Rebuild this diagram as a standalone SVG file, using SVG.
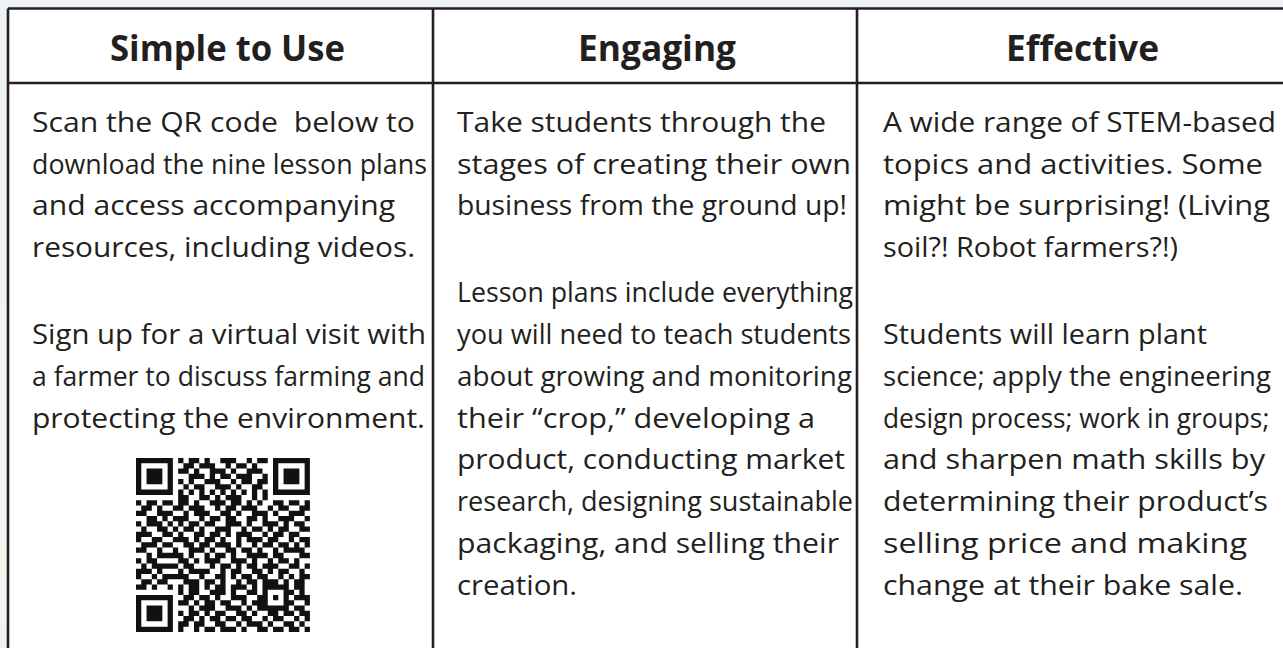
<svg xmlns="http://www.w3.org/2000/svg" width="1283" height="648" viewBox="0 0 1283 648">
<style>
.h{font-family:"Open Sans","DejaVu Sans",sans-serif;font-weight:700;font-size:35px;fill:#231f20}
.b{font-family:"Open Sans","DejaVu Sans",sans-serif;font-size:28px;fill:#231f20}
.ln{stroke:#231f20;stroke-width:2.6;fill:none}
</style>
<defs>
<linearGradient id="bg" x1="0" y1="0" x2="0" y2="1">
<stop offset="0" stop-color="#edf2f7"/>
<stop offset="0.75" stop-color="#eef3f6"/>
<stop offset="0.85" stop-color="#f4f5ec"/>
<stop offset="1" stop-color="#eef3ef"/>
</linearGradient>
</defs>
<rect width="1283" height="648" fill="url(#bg)"/>
<rect x="8" y="8.5" width="1320" height="700" fill="#ffffff"/>
<g id="connectors">
<path class="ln" d="M8 8.5H1290M8 83H1290M8 8.5V660M433 8.5V660M857 8.5V660"/>
</g>
<g id="header-simple"><text class="h" x="110" y="61" textLength="235" lengthAdjust="spacingAndGlyphs">Simple to Use</text></g>
<g id="header-engaging"><text class="h" x="578" y="61" textLength="158" lengthAdjust="spacingAndGlyphs">Engaging</text></g>
<g id="header-effective"><text class="h" x="1006" y="61" textLength="153" lengthAdjust="spacingAndGlyphs">Effective</text></g>
<g id="cell-simple">
<text class="b" x="32" y="132" textLength="383" lengthAdjust="spacingAndGlyphs" xml:space="preserve">Scan the QR code  below to</text>
<text class="b" x="32" y="174" textLength="395" lengthAdjust="spacingAndGlyphs">download the nine lesson plans</text>
<text class="b" x="32" y="215" textLength="363" lengthAdjust="spacingAndGlyphs">and access accompanying</text>
<text class="b" x="32" y="257" textLength="383" lengthAdjust="spacingAndGlyphs">resources, including videos.</text>
<text class="b" x="32" y="344" textLength="394" lengthAdjust="spacingAndGlyphs">Sign up for a virtual visit with</text>
<text class="b" x="32" y="386" textLength="393" lengthAdjust="spacingAndGlyphs">a farmer to discuss farming and</text>
<text class="b" x="32" y="428" textLength="393" lengthAdjust="spacingAndGlyphs">protecting the environment.</text>
<g id="qr" transform="translate(136 458) scale(5.27)" fill="#111">
<path d="M0 0h7v7h-7zM1 1v5h5v-5zM2 2h3v3h-3zM26 0h7v7h-7zM27 1v5h5v-5zM28 2h3v3h-3zM0 26h7v7h-7zM1 27v5h5v-5zM2 28h3v3h-3z" fill-rule="evenodd"/>
<path d="M8 0h1v1h-1zM10 0h2v1h-2zM13 0h1v1h-1zM16 0h3v1h-3zM21 0h1v1h-1zM23 0h2v1h-2z
M9 1h2v1h-2zM12 1h3v1h-3zM17 1h1v1h-1zM19 1h2v1h-2zM22 1h1v1h-1z
M8 2h2v1h-2zM11 2h1v1h-1zM14 2h3v1h-3zM18 2h1v1h-1zM21 2h3v1h-3z
M10 3h3v1h-3zM14 3h1v1h-1zM16 3h2v1h-2zM19 3h3v1h-3zM24 3h1v1h-1z
M8 4h1v1h-1zM10 4h1v1h-1zM13 4h3v1h-3zM18 4h1v1h-1zM20 4h2v1h-2zM23 4h2v1h-2z
M9 5h1v1h-1zM11 5h2v1h-2zM15 5h3v1h-3zM19 5h1v1h-1zM22 5h2v1h-2z
M8 6h1v1h-1zM10 6h1v1h-1zM12 6h1v1h-1zM14 6h1v1h-1zM16 6h1v1h-1zM18 6h1v1h-1zM20 6h1v1h-1zM22 6h1v1h-1zM24 6h1v1h-1z
M8 7h2v1h-2zM12 7h2v1h-2zM15 7h1v1h-1zM17 7h3v1h-3zM22 7h1v1h-1zM24 7h1v1h-1z
M0 8h1v1h-1zM2 8h2v1h-2zM5 8h2v1h-2zM8 8h2v1h-2zM11 8h1v1h-1zM14 8h3v1h-3zM18 8h2v1h-2zM21 8h1v1h-1zM23 8h1v1h-1zM26 8h2v1h-2zM29 8h2v1h-2zM32 8h1v1h-1z
M1 9h2v1h-2zM4 9h1v1h-1zM7 9h2v1h-2zM10 9h3v1h-3zM15 9h1v1h-1zM17 9h2v1h-2zM20 9h3v1h-3zM25 9h1v1h-1zM27 9h2v1h-2zM31 9h2v1h-2z
M0 10h2v1h-2zM4 10h3v1h-3zM9 10h1v1h-1zM11 10h3v1h-3zM16 10h2v1h-2zM19 10h1v1h-1zM22 10h3v1h-3zM26 10h1v1h-1zM29 10h3v1h-3z
M2 11h2v1h-2zM5 11h1v1h-1zM7 11h3v1h-3zM12 11h1v1h-1zM14 11h2v1h-2zM17 11h2v1h-2zM21 11h2v1h-2zM24 11h1v1h-1zM27 11h3v1h-3zM32 11h1v1h-1z
M0 12h1v1h-1zM2 12h3v1h-3zM6 12h1v1h-1zM8 12h1v1h-1zM10 12h2v1h-2zM13 12h2v1h-2zM17 12h3v1h-3zM21 12h1v1h-1zM24 12h3v1h-3zM28 12h1v1h-1zM30 12h2v1h-2z
M1 13h1v1h-1zM4 13h2v1h-2zM7 13h1v1h-1zM9 13h2v1h-2zM12 13h1v1h-1zM15 13h3v1h-3zM20 13h1v1h-1zM22 13h2v1h-2zM25 13h1v1h-1zM27 13h2v1h-2zM31 13h2v1h-2z
M0 14h3v1h-3zM5 14h2v1h-2zM8 14h1v1h-1zM11 14h2v1h-2zM14 14h2v1h-2zM17 14h1v1h-1zM19 14h3v1h-3zM24 14h1v1h-1zM26 14h2v1h-2zM29 14h2v1h-2z
M0 15h1v1h-1zM3 15h2v1h-2zM7 15h3v1h-3zM11 15h1v1h-1zM13 15h2v1h-2zM16 15h1v1h-1zM19 15h1v1h-1zM21 15h3v1h-3zM25 15h2v1h-2zM29 15h1v1h-1zM31 15h2v1h-2z
M1 16h3v1h-3zM5 16h2v1h-2zM9 16h2v1h-2zM12 16h2v1h-2zM15 16h3v1h-3zM19 16h1v1h-1zM22 16h1v1h-1zM24 16h2v1h-2zM27 16h2v1h-2zM30 16h1v1h-1zM32 16h1v1h-1z
M0 17h2v1h-2zM4 17h1v1h-1zM7 17h1v1h-1zM10 17h3v1h-3zM14 17h1v1h-1zM17 17h2v1h-2zM20 17h2v1h-2zM23 17h1v1h-1zM26 17h1v1h-1zM28 17h4v1h-4z
M2 18h1v1h-1zM4 18h5v1h-5zM10 18h1v1h-1zM13 18h1v1h-1zM15 18h2v1h-2zM18 18h1v1h-1zM21 18h4v1h-4zM26 18h2v1h-2zM31 18h2v1h-2z
M0 19h1v1h-1zM2 19h2v1h-2zM8 19h2v1h-2zM11 19h1v1h-1zM13 19h3v1h-3zM18 19h3v1h-3zM22 19h1v1h-1zM25 19h1v1h-1zM27 19h2v1h-2zM30 19h1v1h-1z
M1 20h1v1h-1zM3 20h5v1h-5zM9 20h2v1h-2zM14 20h1v1h-1zM16 20h2v1h-2zM19 20h1v1h-1zM21 20h2v1h-2zM24 20h3v1h-3zM29 20h2v1h-2zM32 20h1v1h-1z
M0 21h3v1h-3zM4 21h1v1h-1zM8 21h1v1h-1zM10 21h4v1h-4zM16 21h1v1h-1zM18 21h2v1h-2zM22 21h2v1h-2zM25 21h1v1h-1zM27 21h2v1h-2zM31 21h1v1h-1z
M0 22h1v1h-1zM3 22h1v1h-1zM5 22h5v1h-5zM12 22h1v1h-1zM15 22h2v1h-2zM18 22h1v1h-1zM20 22h2v1h-2zM23 22h2v1h-2zM27 22h1v1h-1zM29 22h1v1h-1zM31 22h2v1h-2z
M1 23h2v1h-2zM4 23h2v1h-2zM9 23h3v1h-3zM13 23h2v1h-2zM16 23h1v1h-1zM19 23h1v1h-1zM21 23h2v1h-2zM24 23h3v1h-3zM28 23h1v1h-1zM30 23h2v1h-2z
M0 24h2v1h-2zM3 24h1v1h-1zM6 24h1v1h-1zM8 24h1v1h-1zM10 24h2v1h-2zM13 24h1v1h-1zM15 24h2v1h-2zM18 24h3v1h-3zM22 24h1v1h-1zM24 24h5v1h-5zM30 24h2v1h-2z
M8 25h1v1h-1zM10 25h2v1h-2zM14 25h3v1h-3zM18 25h1v1h-1zM21 25h2v1h-2zM24 25h1v1h-1zM28 25h2v1h-2zM31 25h1v1h-1z
M9 26h2v1h-2zM12 26h2v1h-2zM15 26h1v1h-1zM18 26h3v1h-3zM23 26h2v1h-2zM26 26h1v1h-1zM28 26h1v1h-1zM30 26h3v1h-3z
M8 27h2v1h-2zM11 27h1v1h-1zM13 27h2v1h-2zM16 27h2v1h-2zM20 27h1v1h-1zM22 27h3v1h-3zM28 27h2v1h-2zM32 27h1v1h-1z
M10 28h1v1h-1zM12 28h3v1h-3zM17 28h3v1h-3zM21 28h1v1h-1zM23 28h6v1h-6zM30 28h2v1h-2z
M8 29h1v1h-1zM10 29h2v1h-2zM13 29h1v1h-1zM15 29h2v1h-2zM19 29h2v1h-2zM22 29h1v1h-1zM25 29h2v1h-2zM28 29h2v1h-2zM31 29h2v1h-2z
M9 30h2v1h-2zM12 30h1v1h-1zM14 30h2v1h-2zM17 30h2v1h-2zM20 30h2v1h-2zM24 30h1v1h-1zM26 30h2v1h-2zM30 30h1v1h-1zM32 30h1v1h-1z
M8 31h2v1h-2zM11 31h2v1h-2zM15 31h2v1h-2zM19 31h1v1h-1zM21 31h3v1h-3zM25 31h1v1h-1zM28 31h2v1h-2zM31 31h1v1h-1z
M8 32h1v1h-1zM11 32h1v1h-1zM13 32h2v1h-2zM16 32h3v1h-3zM20 32h1v1h-1zM23 32h2v1h-2zM26 32h2v1h-2zM29 32h2v1h-2zM32 32h1v1h-1z"/>
</g>
</g>
<g id="cell-engaging">
<text class="b" x="457" y="132" textLength="369" lengthAdjust="spacingAndGlyphs">Take students through the</text>
<text class="b" x="457" y="174" textLength="394" lengthAdjust="spacingAndGlyphs">stages of creating their own</text>
<text class="b" x="457" y="215" textLength="390" lengthAdjust="spacingAndGlyphs">business from the ground up!</text>
<text class="b" x="457" y="302" textLength="396" lengthAdjust="spacingAndGlyphs">Lesson plans include everything</text>
<text class="b" x="457" y="344" textLength="394" lengthAdjust="spacingAndGlyphs">you will need to teach students</text>
<text class="b" x="457" y="386" textLength="395" lengthAdjust="spacingAndGlyphs">about growing and monitoring</text>
<text class="b" x="457" y="428" textLength="358" lengthAdjust="spacingAndGlyphs">their “crop,” developing a</text>
<text class="b" x="457" y="469" textLength="388" lengthAdjust="spacingAndGlyphs">product, conducting market</text>
<text class="b" x="457" y="511" textLength="396" lengthAdjust="spacingAndGlyphs">research, designing sustainable</text>
<text class="b" x="457" y="553" textLength="382" lengthAdjust="spacingAndGlyphs">packaging, and selling their</text>
<text class="b" x="457" y="595" textLength="120" lengthAdjust="spacingAndGlyphs">creation.</text>
</g>
<g id="cell-effective">
<text class="b" x="883" y="132" textLength="393" lengthAdjust="spacingAndGlyphs">A wide range of STEM-based</text>
<text class="b" x="883" y="174" textLength="380" lengthAdjust="spacingAndGlyphs">topics and activities. Some</text>
<text class="b" x="883" y="215" textLength="387" lengthAdjust="spacingAndGlyphs">might be surprising! (Living</text>
<text class="b" x="883" y="257" textLength="295" lengthAdjust="spacingAndGlyphs">soil?! Robot farmers?!)</text>
<text class="b" x="883" y="344" textLength="324" lengthAdjust="spacingAndGlyphs">Students will learn plant</text>
<text class="b" x="883" y="386" textLength="388" lengthAdjust="spacingAndGlyphs">science; apply the engineering</text>
<text class="b" transform="translate(883 428) scale(0.88 1)" x="0" y="0" textLength="439" lengthAdjust="spacingAndGlyphs">design process; work in groups;</text>
<text class="b" x="883" y="469" textLength="382" lengthAdjust="spacingAndGlyphs">and sharpen math skills by</text>
<text class="b" x="883" y="511" textLength="385" lengthAdjust="spacingAndGlyphs">determining their product’s</text>
<text class="b" x="883" y="553" textLength="364" lengthAdjust="spacingAndGlyphs">selling price and making</text>
<text class="b" x="883" y="595" textLength="360" lengthAdjust="spacingAndGlyphs">change at their bake sale.</text>
</g>
</svg>
